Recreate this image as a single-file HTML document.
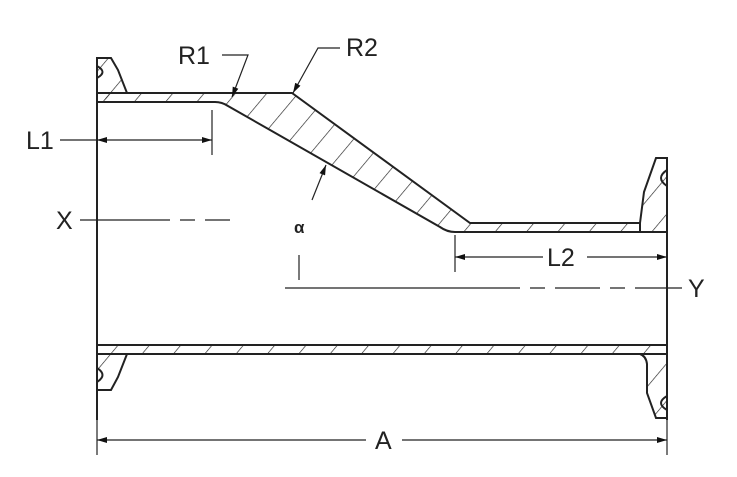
<!DOCTYPE html>
<html><head><style>body{margin:0;background:#fff}svg{display:block}text{font-family:"Liberation Sans",sans-serif;font-size:25px;fill:#222}</style></head><body>
<svg width="737" height="477" viewBox="0 0 737 477" xmlns="http://www.w3.org/2000/svg">
<defs><marker id="a" viewBox="0 0 10 6" refX="10" refY="3" markerWidth="13" markerHeight="6" markerUnits="userSpaceOnUse" orient="auto-start-reverse"><path d="M0,0L10,3L0,6z" fill="#111"/></marker>
<pattern id="h" width="24" height="24" patternUnits="userSpaceOnUse" patternTransform="rotate(40)"><line x1="0" y1="0" x2="0" y2="24" stroke="#222" stroke-width="1.3"/></pattern></defs>
<g stroke="#222" stroke-width="2" fill="none">
<path d="M127,93 L292,93 L470,223 L640,223 L640,232 L455,232 Q447,232 440,227 L228,106 Q222,102 215,102 L97,102 L97,93 Z" fill="url(#h)"/>
<path d="M97,102 L97,58 L111,58 L118,70 L127,93" fill="url(#h)"/>
<path d="M97,66 Q108,72 97,78"/>
<rect x="97" y="345" width="570" height="9" fill="url(#h)"/>
<path d="M97,354 L127,354 L118,377 L111,390 L97,390" fill="url(#h)"/>
<path d="M97,368 Q108,375 97,382"/>
<path d="M640,223 L644,192 L656,158 L667,158 L667,232 L640,232" fill="url(#h)"/>
<path d="M667,170 Q655,178 667,186"/>
<path d="M640,354 Q646,356 647,364 L647,393 L656,418 L667,418 L667,354" fill="url(#h)"/>
<path d="M667,396 Q655,403 667,410"/>
<path d="M97,58 L97,420 M667,158 L667,420"/>
</g>
<g stroke="#222" stroke-width="1.2" fill="none">
<path d="M97,140 L212,140" marker-start="url(#a)" marker-end="url(#a)"/>
<path d="M60,140 L97,140 M212,110 L212,155"/>
<path d="M80,220 L170,220 M180,220 L195,220 M205,220 L230,220"/>
<path d="M285,288 L520,288 M530,288 L545,288 M555,288 L600,288 M610,288 L625,288 M635,288 L682,288"/>
<path d="M455,257 L667,257" marker-start="url(#a)" marker-end="url(#a)"/>
<path d="M455,235 L455,272"/>
<path d="M97,440 L667,440" marker-start="url(#a)" marker-end="url(#a)"/>
<path d="M97,400 L97,455 M667,420 L667,455"/>
<path d="M312,200 L326,165" marker-end="url(#a)"/>
<path d="M299,255 L299,280"/>
<path d="M222,55 L248,55 L232,97" marker-end="url(#a)"/>
<path d="M340,48 L318,48 L293,93" marker-end="url(#a)"/>
</g>
<g stroke="none">
<rect x="543" y="246" width="44" height="20" fill="#fff"/>
<rect x="366" y="428" width="36" height="22" fill="#fff"/>
</g>
<text x="178" y="64">R1</text>
<text x="346" y="56">R2</text>
<text x="26" y="149">L1</text>
<text x="56" y="229">X</text>
<text x="294" y="233" style="font-size:17px;font-weight:bold">α</text>
<text x="547" y="266">L2</text>
<text x="688" y="297">Y</text>
<text x="375" y="449">A</text>
</svg>
</body></html>
